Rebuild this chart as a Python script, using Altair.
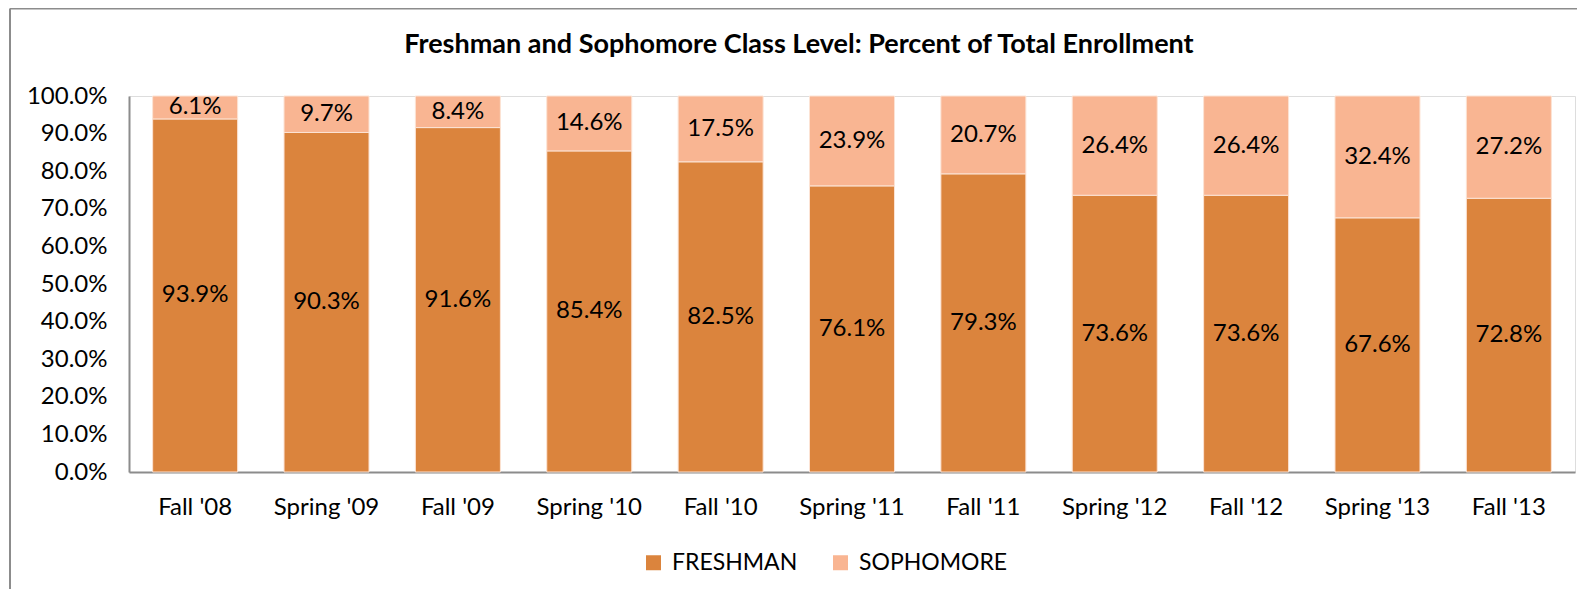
import altair as alt
import pandas as pd

terms = ["Fall '08", "Spring '09", "Fall '09", "Spring '10", "Fall '10", "Spring '11",
         "Fall '11", "Spring '12", "Fall '12", "Spring '13", "Fall '13"]
freshman = [93.9, 90.3, 91.6, 85.4, 82.5, 76.1, 79.3, 73.6, 73.6, 67.6, 72.8]
sophomore = [6.1, 9.7, 8.4, 14.6, 17.5, 23.9, 20.7, 26.4, 26.4, 32.4, 27.2]
levels = ["FRESHMAN", "SOPHOMORE"]
colors = ["#DB843D", "#F9B592"]
y_ticks = [0.0, 0.1, 0.2, 0.3, 0.4, 0.5, 0.6, 0.7, 0.8, 0.9, 1.0]

rows = []
for i, t in enumerate(terms):
    rows.append({"term": t, "level": levels[0], "value": freshman[i] / 100, "order": 0})
    rows.append({"term": t, "level": levels[1], "value": sophomore[i] / 100, "order": 1})
df = pd.DataFrame(rows)

FONT = "Lato"

x_axis = alt.Axis(labelAngle=0, labelFontSize=24, labelFont=FONT, labelColor="#000000",
                  labelPadding=23, ticks=False, domainColor="#8c8c8c", domainWidth=2)
y_axis = alt.Axis(values=y_ticks, format=".1%", grid=False, ticks=False,
                  labelOverlap=False,
                  labelFontSize=24, labelFont=FONT, labelColor="#000000",
                  labelPadding=22, domainColor="#8c8c8c", domainWidth=2)
x_scale = alt.Scale(paddingInner=0.353, paddingOuter=0.18)
y_scale = alt.Scale(domain=[0, 1], nice=False)

bars = alt.Chart(df).mark_bar(stroke="#FCE3D4", strokeWidth=1).encode(
    x=alt.X("term:N", sort=terms, title=None, scale=x_scale, axis=x_axis),
    y=alt.Y("value:Q", stack="zero", title=None, scale=y_scale, axis=y_axis),
    color=alt.Color("level:N", scale=alt.Scale(domain=levels, range=colors),
                    legend=alt.Legend(title=None, orient="none", direction="horizontal",
                                      legendX=513, legendY=455, padding=0,
                                      symbolType="square", symbolSize=225, symbolStrokeWidth=0,
                                      labelFontSize=23, labelFont=FONT, labelColor="#000000",
                                      labelOffset=7, columnPadding=31)),
    order=alt.Order("order:Q"),
)

labels = alt.Chart(df).transform_stack(
    stack="value", groupby=["term"], as_=["y0", "y1"], sort=[alt.SortField("order")]
).transform_calculate(
    mid="(datum.y0 + datum.y1) / 2"
).mark_text(fontSize=24, font=FONT, color="#000000", baseline="middle").encode(
    x=alt.X("term:N", sort=terms, title=None, scale=x_scale, axis=x_axis),
    y=alt.Y("mid:Q", title=None, scale=y_scale, axis=y_axis),
    text=alt.Text("value:Q", format=".1%"),
)

one = pd.DataFrame({"a": [0]})
border_left = alt.Chart(one).mark_rule(color="#8c8c8c", strokeWidth=2).encode(
    x=alt.value(-119), y=alt.value(-87.5), y2=alt.value(501)
)
border_top = alt.Chart(one).mark_rule(color="#8c8c8c", strokeWidth=2).encode(
    x=alt.value(-119), x2=alt.value(1456), y=alt.value(-87.5)
)

chart = alt.layer(bars, labels, border_left, border_top).properties(
    width=1446, height=376,
    title=alt.TitleParams("Freshman and Sophomore Class Level: Percent of Total Enrollment",
                          fontSize=27, font=FONT, fontWeight="bold", color="#000000",
                          anchor="middle", frame="group", baseline="alphabetic",
                          dx=-53, offset=-72),
    autosize=alt.AutoSizeParams(type="none"),
    padding={"left": 121, "top": 88, "right": 2, "bottom": 117},
).configure_view(stroke="transparent", strokeWidth=0).configure(background="white")

chart.save("out.html", embed_options={"renderer": "svg", "actions": False})
